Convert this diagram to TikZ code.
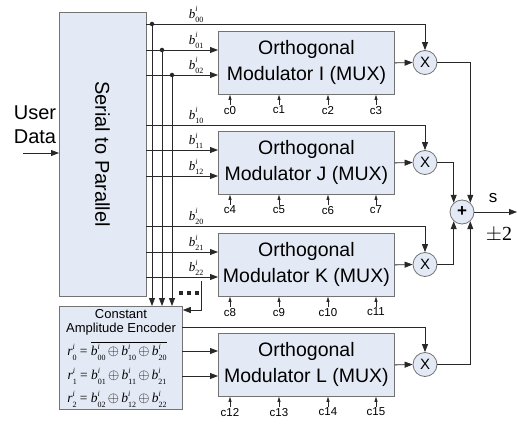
\documentclass[tikz,border=0pt]{standalone}
\usepackage{fontspec}
\setmainfont{Liberation Sans}
\newfontfamily\tm{Liberation Serif}
\usetikzlibrary{arrows.meta}
\definecolor{boxfill}{RGB}{228,234,245}
\definecolor{boxline}{RGB}{115,115,115}
\definecolor{wire}{RGB}{40,40,40}
\newcommand\subsz{\fontsize{8}{8}\selectfont}
\newcommand\bl[1]{{\tm\itshape b\rlap{\raisebox{1.05ex}{\subsz i}}\raisebox{-0.75ex}{\subsz\upshape #1}}}
\newcommand\rl[1]{{\tm\itshape r\rlap{\raisebox{1.05ex}{\subsz i}}\raisebox{-0.75ex}{\subsz\upshape #1}}}
\newcommand\xo{\,$\oplus$\,}
\begin{document}
\begin{tikzpicture}[x=1pt,y=-1pt,
  box/.style={draw=boxline,fill=boxfill,line width=0.8pt,inner sep=0pt,anchor=north west},
  modbox/.style={box,minimum width=176pt,minimum height=63pt,align=center,font=\fontsize{19.5}{26}\selectfont},
  mult/.style={circle,draw=boxline,fill=boxfill,line width=0.8pt,minimum size=24pt,inner sep=0pt,font=\fontsize{15}{15}\selectfont},
  wr/.style={draw=wire,line width=0.8pt},
  arr/.style={wr,-{Triangle[length=8pt,width=6pt]}},
  sarr/.style={wr,line width=0.6pt,-{Triangle[length=5pt,width=3pt]}},
  blab/.style={anchor=south,inner sep=0pt,font=\fontsize{13}{13}\selectfont},
  eqs/.style={inner sep=0pt,font=\fontsize{13.5}{13.5}\selectfont\tm},
  clab/.style={inner sep=1pt,font=\fontsize{11.5}{11.5}\selectfont},
  dot/.style={circle,fill=wire,inner sep=0pt,minimum size=4.5pt}
]
\useasboundingbox (0,0) rectangle (517,425);

% main boxes
\node[box,minimum width=87pt,minimum height=284pt] (s2p) at (59,12) {};
\node[rotate=-90,font=\fontsize{20}{20}\selectfont] (s2ptxt) at (102.5,154) {Serial to Parallel};
\node[modbox] (modI) at (218,31) {Orthogonal\\Modulator I (MUX)};
\node[modbox] (modJ) at (218,131) {Orthogonal\\Modulator J (MUX)};
\node[modbox] (modK) at (218,233) {Orthogonal\\Modulator K (MUX)};
\node[modbox] (modL) at (218,333) {Orthogonal\\Modulator L (MUX)};
\node[box,minimum width=123pt,minimum height=103pt] (cae) at (59,306) {};

% encoder text
\node[font=\fontsize{13}{13}\selectfont] (cae1) at (121,314) {Constant};
\node[font=\fontsize{13}{13}\selectfont] (cae2) at (121,329) {Amplitude Encoder};
\node[eqs] (eq0) at (117,351) {\rl{0} = $\overline{\hbox{\bl{00}\xo\bl{10}\xo\bl{20}}}$};
\node[eqs] (eq1) at (117,376) {\rl{1} = \bl{01}\xo\bl{11}\xo\bl{21}};
\node[eqs] (eq2) at (117,399) {\rl{2} = \bl{02}\xo\bl{12}\xo\bl{22}};

% user data
\node[align=center,font=\fontsize{20}{24}\selectfont,inner sep=0pt] (ud) at (35,125) {User\\Data};
\coordinate (udin) at (23,153);
\draw[arr] (udin) -- (udin -| s2p.west);

% multipliers and adder
\node[mult] (xI) at (425,62.5) {X};
\node[mult] (xJ) at (425,162.5) {X};
\node[mult] (xK) at (425,264.5) {X};
\node[mult] (xL) at (425,364.5) {X};
\node[mult,font=\fontsize{17}{17}\selectfont\bfseries] (plus) at (462,212) {+};

% outputs of serial to parallel
\foreach \n/\y in {00/24,01/50,02/75,10/125,11/150,12/176,20/226,21/252,22/277}{
  \coordinate (o\n) at (146,\y);
  \node[blab] (bl\n) at (196,\y-1) {\bl{\n}};
}
\draw[arr] (o00) -| (xI.north);
\draw[arr] (o01) -- (o01 -| modI.west);
\draw[arr] (o02) -- (o02 -| modI.west);
\draw[arr] (o10) -| (xJ.north);
\draw[arr] (o11) -- (o11 -| modJ.west);
\draw[arr] (o12) -- (o12 -| modJ.west);
\draw[arr] (o20) -| (xK.north);
\draw[arr] (o21) -- (o21 -| modK.west);
\draw[arr] (o22) -- (o22 -| modK.west);

% taps to encoder
\coordinate (t0) at (152,24);
\coordinate (t1) at (162,50);
\coordinate (t2) at (172,75);
\draw[arr] (t0) -- (t0 |- cae.north);
\draw[arr] (t1) -- (t1 |- cae.north);
\draw[arr] (t2) -- (t2 |- cae.north);
\node[dot] (d0) at (t0) {};
\node[dot] (d1) at (t1) {};
\node[dot] (d2) at (t2) {};

% dots and return arrow
\foreach \xx in {181,189,197}{\fill[wire] (\xx-1.6,291.4) rectangle (\xx+1.6,294.6);}
\coordinate (dt) at (201,281);
\coordinate (dtb) at (201,310);
\draw[arr] (dt) -- (dtb) -- (dtb -| cae.east);

% encoder outputs
\coordinate (e0) at (182,327);
\coordinate (e1) at (182,351);
\coordinate (e2) at (182,376);
\draw[arr] (e0) -| (xL.north);
\draw[arr] (e1) -- (e1 -| modL.west);
\draw[arr] (e2) -- (e2 -| modL.west);

% modulator to multiplier
\draw[arr] (modI.east) -- (xI.west);
\draw[arr] (modJ.east) -- (xJ.west);
\draw[arr] (modK.east) -- (xK.west);
\draw[arr] (modL.east) -- (xL.west);

% multipliers to adder
\draw[arr] (xI.east) -| (plus.48);
\draw[arr] (xJ.east) -| (plus.132);
\draw[arr] (xK.east) -| (plus.228);
\draw[arr] (xL.east) -| (plus.312);

% output
\coordinate (out) at (517,212);
\draw[arr] (plus.east) -- (out);
\node[font=\fontsize{17}{17}\selectfont] (slab) at (493,198) {s};
\node[font=\fontsize{20}{20}\selectfont\tm] (pm) at (499,235) {$\pm$2};

% chip inputs
\foreach \m/\a/\b/\c/\d in {modI/0/1/2/3, modJ/4/5/6/7, modK/8/9/10/11, modL/12/13/14/15}{
  \foreach \cx/\cn in {230/\a, 279/\b, 328/\c, 376/\d}{
    \node[clab,anchor=north] (c\cn) at ([yshift=-10pt]\m.south -| \cx,0) {c\cn};
    \draw[sarr] (c\cn.north) -- (c\cn.north |- \m.south);
  }
}
\end{tikzpicture}
\end{document}
